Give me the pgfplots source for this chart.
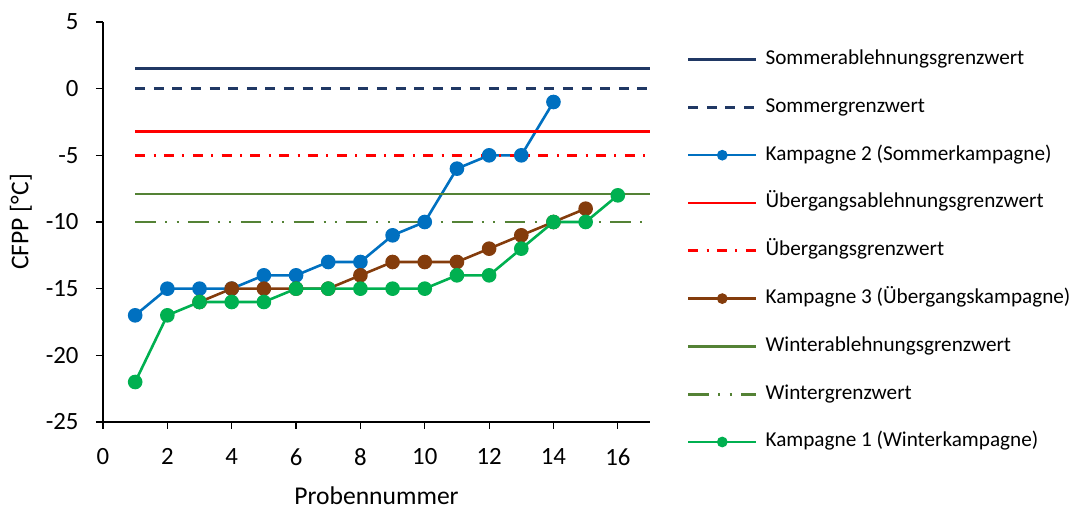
\documentclass[border=0pt]{standalone}
\usepackage{fontspec}
\setmainfont{Carlito}
\usepackage{pgfplots}
\pgfplotsset{compat=1.18}

\definecolor{navy}{RGB}{32,56,100}
\definecolor{kblue}{RGB}{0,112,192}
\definecolor{kbrown}{RGB}{132,60,12}
\definecolor{wgreen}{RGB}{84,130,53}
\definecolor{kgreen}{RGB}{0,176,80}

\begin{document}
\fontsize{10.6}{12.7}\selectfont
\begin{tikzpicture}
\begin{axis}[
    scale only axis,
    width=273.5pt, height=200pt,
    xmin=0, xmax=17, ymin=-25, ymax=5,
    xtick={0,2,...,16}, ytick={-25,-20,...,5},
    axis lines*=left,
    axis line style={black, line width=0.6pt},
    tick align=outside, major tick length=3.5pt,
    tick style={black, line width=0.6pt},
    /pgf/number format/assume math mode=true,
    ticklabel style={font=\fontsize{12.4}{15}\selectfont},
    label style={font=\fontsize{12.8}{15}\selectfont},
    xticklabel style={yshift=-6pt},
    yticklabel style={xshift=-5pt},
    xlabel={Probennummer}, ylabel={CFPP [°C]},
    xlabel style={at={(axis description cs:0.5,-0.2075)}, anchor=base},
    ylabel style={at={(axis description cs:-0.15,0.5)}, anchor=center},
    legend cell align=left,
    legend style={draw=none, fill=none, inner sep=0pt, outer sep=0pt,
        at={(1.0676,0.428)}, anchor=west,
        nodes={inner sep=0pt, text height=8pt, text depth=3pt},
        row sep=12.9pt,
        /tikz/every odd column/.append style={column sep=4pt}},
    legend image code/.code={
        \draw[mark repeat=2, mark phase=2, #1, mark size=2pt]
            plot coordinates {(0pt,0pt) (17pt,0pt) (34pt,0pt)};},
    every axis plot/.append style={line width=1.3pt},
]
% Grenzwerte Sommer
\addplot[navy, no markers] coordinates {(1,1.5) (17,1.5)};
\addlegendentry{Sommerablehnungsgrenzwert}
\addplot[navy, no markers, dash pattern=on 5pt off 4.3pt] coordinates {(1,0) (17,0)};
\addlegendentry{Sommergrenzwert}
% Kampagne 2
\addplot[kblue, mark=*, mark size=3pt, mark options={solid, fill=kblue}] coordinates {
    (1,-17) (2,-15) (3,-15) (4,-15) (5,-14) (6,-14) (7,-13) (8,-13)
    (9,-11) (10,-10) (11,-6) (12,-5) (13,-5) (14,-1)
};
\addlegendentry{Kampagne 2 (Sommerkampagne)}
% Grenzwerte Uebergang
\addplot[red, no markers] coordinates {(1,-3.2) (17,-3.2)};
\addlegendentry{Übergangsablehnungsgrenzwert}
\addplot[red, no markers, dash pattern=on 5pt off 4.2pt on 1pt off 4.2pt] coordinates {(1,-5) (17,-5)};
\addlegendentry{Übergangsgrenzwert}
% Kampagne 3
\addplot[kbrown, mark=*, mark size=3pt, mark options={solid, fill=kbrown}] coordinates {
    (3,-16) (4,-15) (5,-15) (6,-15) (7,-15) (8,-14) (9,-13) (10,-13)
    (11,-13) (12,-12) (13,-11) (14,-10) (15,-9)
};
\addlegendentry{Kampagne 3 (Übergangskampagne)}
% Grenzwerte Winter
\addplot[wgreen, no markers] coordinates {(1,-7.9) (17,-7.9)};
\addlegendentry{Winterablehnungsgrenzwert}
\addplot[wgreen, no markers, dash pattern=on 10.3pt off 4.7pt on 1pt off 4.7pt on 1pt off 4.7pt] coordinates {(1,-10) (17,-10)};
\addlegendentry{Wintergrenzwert}
% Kampagne 1
\addplot[kgreen, mark=*, mark size=3pt, mark options={solid, fill=kgreen}] coordinates {
    (1,-22) (2,-17) (3,-16) (4,-16) (5,-16) (6,-15) (7,-15) (8,-15)
    (9,-15) (10,-15) (11,-14) (12,-14) (13,-12) (14,-10) (15,-10) (16,-8)
};
\addlegendentry{Kampagne 1 (Winterkampagne)}
\end{axis}
\pgfresetboundingbox
\path (-51.5pt,-45pt) rectangle (486pt,211pt);
\end{tikzpicture}
\end{document}
